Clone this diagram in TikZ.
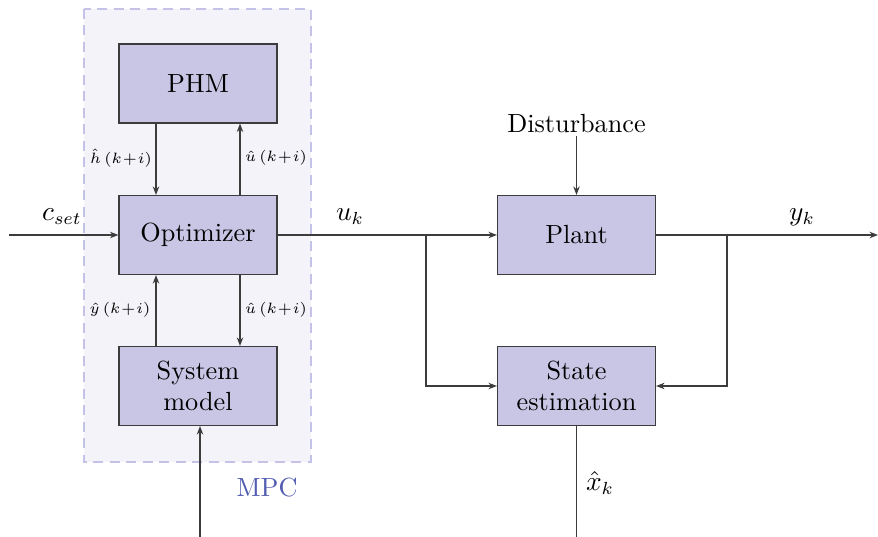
\documentclass[tikz,border=0pt]{standalone}
\usetikzlibrary{arrows.meta}
\definecolor{blockfill}{RGB}{200,198,228}
\definecolor{mpcfill}{RGB}{244,243,249}
\definecolor{mpcedge}{RGB}{196,194,230}
\definecolor{mpctext}{RGB}{82,92,176}
\definecolor{edge}{RGB}{60,60,60}
\tikzset{
  block/.style={draw=edge, fill=blockfill, line width=0.45pt, minimum width=63.2pt,
    minimum height=31.6pt, align=center, inner sep=1pt},
  conn/.style={draw=edge, line width=0.45pt, -{Stealth[length=3.4pt,width=2.6pt]}},
  wire/.style={draw=edge, line width=0.45pt},
  lbl/.style={inner sep=1pt},
  smalllbl/.style={inner sep=0.5pt, font=\fontsize{6}{7}\selectfont},
  frame/.style={draw=mpcedge, fill=mpcfill, dash pattern=on 4pt off 2.6pt, line width=0.8pt},
}
\begin{document}
\begin{tikzpicture}[x=0.4pt, y=-0.4pt, font=\fontsize{10.5}{12.6}\selectfont]
  \useasboundingbox (0,0) rectangle (878,537);
  % MPC frame
  \coordinate (mpcnw) at (84,9);
  \coordinate (mpcse) at (311,462);
  \path[frame] (mpcnw) rectangle (mpcse);
  \node[lbl, text=mpctext] (mpclbl) at (267,488) {MPC};

  % Blocks
  \node[block] (phm) at (198,83.5) {PHM};
  \node[block] (opt) at (198,235) {Optimizer};
  \node[block] (sys) at (198,386) {System\\model};
  \node[block] (plant) at (576.5,235) {Plant};
  \node[block] (est) at (576.5,386) {State\\estimation};

  % Free ends
  \coordinate (cin) at (9,235);
  \coordinate (yout) at (878,235);
  \coordinate (sysin) at (200,537);
  \coordinate (xout) at (576.5,537);
  \coordinate (ub) at (426,235);
  \coordinate (yb) at (727,235);
  \node[lbl] (dist) at (576.5,124) {Disturbance};

  % Optimizer <-> PHM / system model
  \draw[conn] (phm.south -| 156,0) -- (opt.north -| 156,0);
  \draw[conn] (opt.north -| 240,0) -- (phm.south -| 240,0);
  \draw[conn] (sys.north -| 156,0) -- (opt.south -| 156,0);
  \draw[conn] (opt.south -| 240,0) -- (sys.north -| 240,0);
  \node[smalllbl] (lh) at (121,158) {$\hat{h}\,(k\!+\!i)$};
  \node[smalllbl] (lu1) at (276,158) {$\hat{u}\,(k\!+\!i)$};
  \node[smalllbl] (ly) at (120,310) {$\hat{y}\,(k\!+\!i)$};
  \node[smalllbl] (lu2) at (276,310) {$\hat{u}\,(k\!+\!i)$};

  % Signal paths
  \draw[conn] (cin) -- (opt.west);
  \node[lbl] (cset) at (62,217) {$c_{set}$};
  \draw[conn] (opt.east) -- (plant.west);
  \node[lbl] (uk) at (350,217) {$u_k$};
  \draw[conn] (ub) |- (est.west);
  \draw[conn] (plant.east) -- (yout);
  \node[lbl] (yk) at (802,217) {$y_k$};
  \draw[conn] (yb) |- (est.east);
  \draw[conn] (dist.south) -- (plant.north);
  \draw[wire] (est.south) -- (xout);
  \node[lbl] (xk) at (600,483) {$\hat{x}_k$};
  \draw[conn] (sysin) -- (sys.south -| sysin);
\end{tikzpicture}
\end{document}
